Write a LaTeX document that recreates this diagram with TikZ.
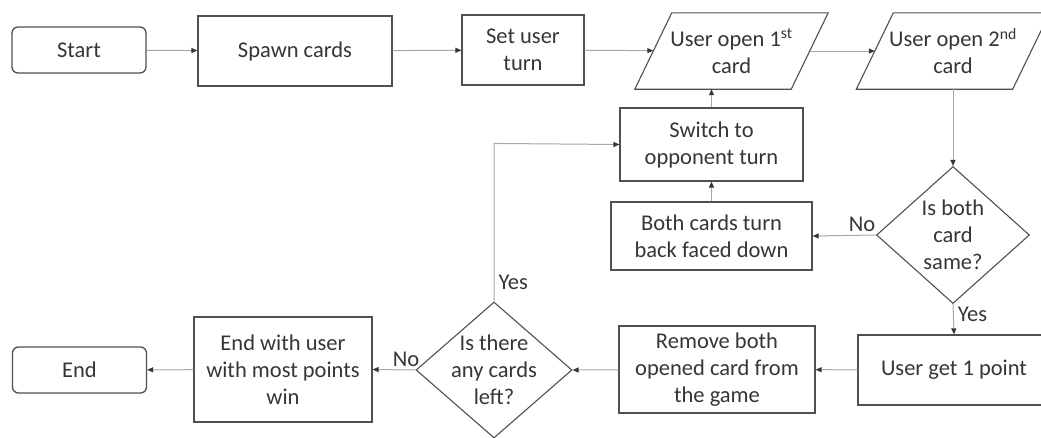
\documentclass[tikz,border=0pt]{standalone}
\usepackage{fontspec}
\setmainfont{Carlito}
\usepackage{tikz}
\usetikzlibrary{arrows.meta,positioning,shapes.geometric}
\usepackage{xcolor}
\definecolor{inkgray}{HTML}{363636}
\definecolor{edgegray}{HTML}{505050}
\definecolor{linegray}{HTML}{A8A8A8}

\begin{document}
\begin{tikzpicture}[
    x=1pt, y=-1pt,
    every node/.style={font=\fontsize{22.5}{27}\selectfont, text=inkgray},
    terminal/.style={rectangle, rounded corners=6pt, draw=edgegray, line width=1.3pt,
                     minimum width=134pt, minimum height=46pt, align=center},
    block/.style={rectangle, draw=edgegray, line width=1.2pt, align=center, inner sep=2pt},
    io/.style={rectangle, align=center, minimum width=156pt, minimum height=76pt, inner sep=1pt},
    ioedge/.style={draw=edgegray, line width=1.1pt, line join=miter},
    decision/.style={diamond, draw=edgegray, line width=1.1pt, align=center, inner sep=-6pt},
    arrow/.style={-{Triangle[length=6pt, width=5pt, color=inkgray]}, draw=linegray, line width=1pt},
    tag/.style={inner sep=1pt}
  ]
  \clip (0,0) rectangle (1041,437);
  \fill[white] (0,0) rectangle (1041,437);

  \node[terminal] (start) at (79,50) {Start};
  \node[block, minimum width=194pt, minimum height=70pt] (spawn) at (295,51) {Spawn cards};
  \node[block, minimum width=122pt, minimum height=70pt] (setturn) at (523,50) {Set user\\turn};
  \node[io] (open1) at (731.5,51) {User open 1\textsuperscript{st}\\card};
  \node[io] (open2) at (953,51) {User open 2\textsuperscript{nd}\\card};
  \node[block, minimum width=183pt, minimum height=73pt] (switch) at (711.5,144.5) {Switch to\\opponent turn};
  \node[block, minimum width=201pt, minimum height=68pt] (flip) at (711.5,236) {Both cards turn\\back faced down};
  \node[decision, aspect=1.12, minimum width=153pt, minimum height=137pt] (same) at (953,235) {Is both\\card\\same?};
  \node[block, minimum width=192pt, minimum height=70pt] (point) at (954,370) {User get 1 point};
  \node[block, minimum width=196pt, minimum height=87pt] (remove) at (717,369.5) {Remove both\\opened card from\\the game};
  \node[decision, aspect=1.15, minimum width=156pt, minimum height=136pt] (left) at (494,370) {Is there\\any cards\\left?};
  \node[block, minimum width=178pt, minimum height=105pt] (winner) at (283,369.5) {End with user\\with most points\\win};
  \node[terminal] (end) at (79.5,370) {End};

  \foreach \io in {open1,open2}
    \draw[ioedge] ([xshift=-18.5pt]\io.south west) -- ([xshift=-18.5pt]\io.south east)
      -- ([xshift=18.5pt]\io.north east) -- ([xshift=18.5pt]\io.north west) -- cycle;

  \draw[arrow] (start) -- (spawn);
  \draw[arrow] (spawn) -- (setturn);
  \draw[arrow] (setturn) -- (open1);
  \draw[arrow] (open1) -- (open2);
  \draw[arrow] (open2.south) -- (same.north);
  \draw[arrow] (same.west) -- node[tag, pos=0.22, above=2pt] {No} (flip.east);
  \draw[arrow] (flip) -- (switch);
  \draw[arrow] (switch.north) -- (switch.north |- open1.south);
  \draw[arrow] (same.south) -- node[tag, pos=0.35, right=3pt] {Yes} (point.north);
  \draw[arrow] (point) -- (remove);
  \draw[arrow] (remove) -- (left.east);
  \draw[arrow] (left.north) -- node[tag, pos=0.12, right=3pt] {Yes} ++(0,-158) -- (switch.west);
  \draw[arrow] (left.west) -- node[tag, pos=0.22, above=2pt] {No} (winner.east);
  \draw[arrow] (winner) -- (end);
\end{tikzpicture}
\end{document}
